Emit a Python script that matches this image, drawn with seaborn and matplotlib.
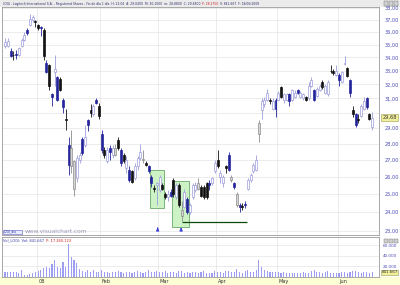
import numpy as np
import pandas as pd
import matplotlib
matplotlib.use("Agg")
import matplotlib.pyplot as plt
import seaborn as sns
from matplotlib.patches import Rectangle
from matplotlib.ticker import FixedLocator, NullLocator, FuncFormatter
from matplotlib.transforms import blended_transform_factory

# ---------------- data ----------------
open_ = [34.9, 34.9, 34.5, 34.2, 34.2, 34.2, 34.9, 35.4, 36.2, 36.6, 37.0, 36.9,
         36.6, 36.4, 36.2, 33.6, 33.4, 31.3, 32.9, 32.5, 32.4, 30.9, 29.6, 27.9, 26.6, 25.3, 25.9, 27.0, 28.3, 27.9, 29.5, 30.2, 29.9, 30.9, 30.5,
         28.6, 27.6, 26.9, 27.7, 27.3, 27.3, 28.2, 27.6, 27.3, 26.5, 26.4, 26.3, 25.9, 26.6, 27.1, 27.0, 26.8, 26.6, 26.0, 25.3, 25.5,
         25.2, 25.5, 25.0, 24.8, 25.1, 25.8, 24.8, 25.5, 23.8, 24.3, 24.7, 24.0, 24.8, 25.2, 25.3, 25.4, 25.4, 25.6, 25.6, 25.6, 26.3,
         27.0, 26.0, 25.6, 26.6, 27.3, 25.8, 25.6, 24.4, 24.4, 24.3, 24.45, 25.3, 25.8, 26.3, 26.4, 28.6, 30.2, 30.6, 30.9, 30.9, 30.3, 30.9,
         30.9, 31.8, 30.9, 30.9, 31.3, 30.9, 31.1, 31.6, 31.1, 31.0, 31.1, 31.0, 31.9, 31.6, 31.2, 31.6, 32.2, 31.4, 31.3, 33.0, 33.0, 32.7,
         32.7, 32.2, 33.5, 33.2, 32.3, 30.2, 29.9, 29.6, 29.8, 30.3, 31.0, 29.9, 29.04]
high = [35.5, 35.5, 34.7, 34.5, 34.6, 34.8, 35.5, 36.0, 36.3, 37.5, 37.4, 37.0,
        36.7, 36.5, 36.3, 33.8, 33.5, 31.4, 34.2, 32.6, 32.5, 31.0, 30.3, 28.4, 28.9, 27.0, 27.3, 27.5, 28.4, 29.2, 29.6, 30.6, 30.6, 31.0, 30.7,
        28.9, 27.8, 27.8, 27.9, 27.9, 28.0, 28.4, 27.7, 27.4, 27.2, 26.6, 26.4, 26.8, 27.2, 28.0, 27.6, 26.9, 26.7, 26.1, 25.5, 25.7,
        26.1, 25.6, 25.1, 25.2, 25.3, 25.9, 25.6, 25.6, 24.6, 25.3, 24.8, 24.5, 25.6, 25.7, 25.9, 25.5, 25.5, 25.7, 25.8, 26.0, 27.0,
        27.6, 26.4, 26.1, 26.7, 27.5, 26.1, 25.7, 25.1, 24.5, 24.5, 24.6, 25.9, 26.2, 26.8, 27.3, 29.5, 31.0, 31.1, 31.7, 31.0, 31.0, 31.0,
        31.5, 31.9, 31.4, 31.4, 31.4, 31.7, 31.6, 31.7, 31.5, 31.4, 31.2, 32.2, 32.5, 31.7, 31.8, 32.0, 32.3, 32.0, 32.3, 33.4, 33.1, 33.4,
        32.8, 33.0, 34.1, 33.3, 32.4, 30.5, 30.0, 29.9, 30.6, 31.1, 31.1, 30.0, 30.10]
low = [34.7, 34.8, 34.0, 33.8, 33.9, 34.1, 34.8, 35.3, 35.8, 36.5, 36.8, 36.4,
       36.2, 35.7, 33.8, 32.8, 31.6, 30.5, 31.9, 30.8, 31.5, 30.0, 28.9, 26.1, 26.2, 24.9, 25.7, 26.8, 27.3, 27.8, 28.8, 29.7, 29.8, 30.6, 29.6,
       27.4, 27.1, 26.8, 27.0, 27.1, 27.2, 27.6, 26.6, 26.8, 26.2, 25.7, 25.6, 25.8, 26.4, 27.0, 26.8, 26.6, 26.2, 25.4, 25.1, 24.4,
       25.1, 25.2, 24.7, 24.6, 24.8, 24.8, 24.7, 24.3, 23.5, 24.2, 23.9, 23.9, 24.7, 25.1, 25.2, 24.8, 24.7, 24.7, 25.2, 25.5, 26.2,
       26.5, 25.6, 25.4, 26.2, 26.3, 25.7, 25.3, 24.3, 24.0, 24.1, 24.2, 25.2, 25.7, 26.2, 26.3, 28.1, 29.6, 30.4, 30.8, 30.6, 30.2, 29.7,
       30.8, 31.0, 30.7, 30.8, 30.5, 30.8, 31.0, 31.3, 31.0, 30.9, 30.8, 30.9, 31.8, 30.8, 31.1, 31.5, 31.7, 31.3, 31.2, 32.8, 32.7, 32.6,
       31.9, 32.1, 33.4, 32.5, 31.1, 29.7, 29.1, 29.3, 29.7, 30.2, 30.3, 29.5, 28.88]
close = [35.2, 35.3, 34.1, 34.15, 34.3, 34.7, 35.4, 35.8, 35.9, 37.1, 37.2, 36.8,
         36.3, 36.3, 34.1, 32.9, 31.9, 31.1, 33.1, 30.9, 31.6, 30.4, 29.5, 26.7, 27.7, 26.9, 27.1, 27.3, 27.4, 28.4, 29.2, 30.0, 30.5, 30.7, 29.8,
         27.6, 27.3, 27.6, 27.5, 27.7, 27.7, 27.7, 26.8, 26.9, 27.0, 25.8, 25.7, 26.6, 27.1, 27.5, 27.05, 26.7, 26.3, 25.6, 25.3, 25.6,
         26.0, 25.3, 24.8, 25.0, 24.9, 25.0, 25.5, 24.4, 24.1, 25.1, 24.0, 24.4, 25.5, 25.5, 25.6, 24.9, 24.8, 24.8, 25.5, 25.9, 26.8,
         26.6, 26.2, 26.0, 26.5, 26.4, 26.0, 25.4, 25.0, 24.3, 24.3, 24.4, 25.8, 26.1, 26.7, 27.0, 29.3, 30.8, 30.9, 31.4, 30.8, 30.8, 30.3,
         31.4, 31.1, 31.3, 31.3, 30.8, 31.6, 31.4, 31.4, 31.4, 31.3, 30.9, 31.9, 32.3, 30.9, 31.7, 31.9, 31.8, 31.9, 32.2, 32.95, 32.8, 33.0,
         32.3, 32.9, 33.6, 32.6, 31.4, 29.9, 29.2, 29.5, 30.5, 30.8, 30.4, 29.6, 29.68]
# candle style: w = hollow, g = grey hollow, b = blue filled, k = black filled
kind = ("wwbkbwwwbwwk" "kbkbkbwbkbkbggwwbwbkwbk" "bkwbwgkbkwbkwwwgkbbkw"
        "wkkwbkwkgwbwwwgkkkbww" "kwwkbgbgbkbwwwwgwwwkwb" "wkwwbwwbwwkwwbwwkwwkkw" "bwwkbkbkwwbkw")
volume_thousands = [819, 953, 895, 895, 895, 629, 1276, 324, 324, 514, 629, 895,
                    1048, 1334, 1715, 1810, 1715, 2419, 3239, 1905, 1619, 2858, 1905, 6286, 3810, 3239, 2667, 1524, 1143, 953, 1334, 953, 1238, 953, 857,
                    1334, 953, 857, 762, 953, 857, 1143, 953, 762, 857, 953, 762, 857, 1143, 857, 762, 953, 1238, 953, 857, 1143,
                    953, 857, 1143, 762, 857, 953, 762, 1048, 1143, 762, 953, 667, 857, 953, 762, 857, 1048, 762, 667, 762, 1143,
                    857, 953, 762, 1048, 1143, 857, 953, 1429, 953, 762, 1048, 1238, 857, 953, 1238, 3239, 1905, 1334, 1048, 857, 857, 953,
                    857, 762, 857, 667, 762, 667, 762, 667, 762, 857, 667, 762, 1048, 1334, 857, 953, 762, 857, 1048, 762, 667, 762,
                    762, 857, 953, 762, 857, 1143, 1048, 857, 762, 953, 857, 762, 841.667]
last_date = "2008-06-18"
month_labels = ["08", "Feb", "Mar", "Apr", "May", "Jun"]
price_ticks = [23, 24, 25, 26, 27, 28, 29, 30, 31, 32, 33, 34, 35, 36, 37, 38]
volume_ticks_hundreds = [20000, 40000, 60000]
box1_candles = [53, 57]
box2_candles = [61, 66]
support_level = 23.46
support_span = [64, 87.5]
arrow_candles = [55.3, 63.8]
header = ("LOGI - Logitech International S.A. - Registered Shares - Fin de día 1 día  H: 21:04  "
          "A: 29,0400  M: 30,1000  m: 28,8800  C: 29,6800 ")
header_red = "P: 28,2750"
header_tail = "  V: 841.667  F: 18/06/2008"
vol_title = "Vol_LOGI: Vol: 841.667 "
vol_title_red = " P: 17.260.123"

assert len(open_) == len(high) == len(low) == len(close) == len(kind) == len(volume_thousands)

# ---------------- figure ----------------
sns.set_theme(style="white")
plt.rcParams["font.family"] = ["DejaVu Sans"]

n = len(close)
dates = pd.bdate_range(end=last_date, periods=n)
xi = np.arange(n)
o, h, l, c = map(np.asarray, (open_, high, low, close))
vol = np.asarray(volume_thousands) * 1000.0

W, H = 400, 285
fig = plt.figure(figsize=(W / 100, H / 100), dpi=100)
fig.patch.set_facecolor("white")


def rect(x0, y0, x1, y1):
    return [x0 / W, 1 - y1 / H, (x1 - x0) / W, (y1 - y0) / H]


fig.add_artist(Rectangle((0, 1 - 7 / H), 1, 7 / H, transform=fig.transFigure,
                         facecolor="#ebebeb", edgecolor="none", zorder=0))
fig.add_artist(Rectangle((0, 0), 1, 8 / H, transform=fig.transFigure,
                         facecolor="#ffffd6", edgecolor="none", zorder=0))

ax = fig.add_axes(rect(2, 7, 379, 235))
axv = fig.add_axes(rect(2, 237, 379, 276.5))

month_bounds = [i - 0.5 for i in range(1, n) if dates[i].month != dates[i - 1].month]
xlim = (-1.1, 135.5)

# ---- candles ----
face_map = {"w": "#ffffff", "g": "#d6d6d6", "b": "#24249c", "k": "#121212"}
edge_map = {"w": "#9c9cdc", "g": "#8c8c8c", "b": "#24249c", "k": "#121212"}
faces = [face_map[k] for k in kind]
edges = [edge_map[k] for k in kind]

ax.set_yscale("log")
ax.vlines(xi, l, h, colors=edges, linewidth=0.6, zorder=3)
bottom = np.minimum(o, c)
height = np.maximum(np.abs(c - o), 0.05)
ax.bar(xi, height, bottom=bottom, width=0.72, color=faces, edgecolor=edges,
       linewidth=0.5, zorder=4)

# green study boxes
for (a, b), (plo, phi) in zip([box1_candles, box2_candles], [(24.2, 26.4), (23.2, 25.75)]):
    ax.add_patch(Rectangle((a - 0.5, plo), (b - a) + 1.2, phi - plo, facecolor="#cdf2c6",
                           edgecolor="#6aa86a", linewidth=0.6, zorder=2))
ax.hlines(support_level, support_span[0], support_span[1], color="#0c4a0c", linewidth=0.9, zorder=5)
for xa in arrow_candles:
    ax.annotate("", xy=(xa, 23.32), xytext=(xa, 22.98),
                arrowprops=dict(arrowstyle="-|>", color="#3b3bd6", lw=0.8, mutation_scale=4),
                zorder=6, annotation_clip=False)

ax.set_xlim(*xlim)
ax.set_ylim(22.79, 38.09)
ax.yaxis.set_major_locator(FixedLocator(price_ticks))
ax.yaxis.set_minor_locator(NullLocator())


def price_fmt(v, pos):
    if abs(np.log(v / close[-1])) < 0.02:
        return ""
    return f"{v:.2f}".replace(".", ",")


ax.yaxis.set_major_formatter(FuncFormatter(price_fmt))
ax.yaxis.tick_right()
ax.tick_params(axis="y", labelsize=3.6, labelcolor="#4a4ab8", length=0, pad=4)
ax.set_xticks(month_bounds)
ax.tick_params(axis="x", length=0, labelbottom=False)
ax.grid(True, color="#e4e4e4", linewidth=0.5)
ax.set_axisbelow(True)
for s in ax.spines.values():
    s.set_color("#9a9a9a")
    s.set_linewidth(0.6)

tr = blended_transform_factory(ax.transAxes, ax.transData)
ax.text(1.009, close[-1], f"{close[-1]:.2f}".replace(".", ","), transform=tr, fontsize=3.6,
        color="#333333", va="center", ha="left", clip_on=False, zorder=10,
        bbox=dict(boxstyle="square,pad=0.2", fc="#f2ef9a", ec="#9a9a50", lw=0.4))

# ---- volume ----
sns.barplot(x=xi, y=vol, native_scale=True, ax=axv, color="#9d9df2", saturation=1,
            width=0.4, errorbar=None, linewidth=0, edgecolor="none")
axv.set_xlim(*xlim)
axv.set_ylim(0, 7.6e6)
axv.set_xlabel("")
axv.set_ylabel("")
axv.yaxis.set_major_locator(FixedLocator([t * 100 for t in volume_ticks_hundreds]))
axv.yaxis.set_minor_locator(NullLocator())
axv.yaxis.set_major_formatter(FuncFormatter(lambda v, p: f"{v / 100:,.0f}".replace(",", ".")))
axv.yaxis.tick_right()
axv.tick_params(axis="y", labelsize=3.0, labelcolor="#4a4ab8", length=0, pad=3)
axv.set_xticks(month_bounds)
axv.set_xticklabels([])
axv.tick_params(axis="x", length=2.0, width=0.5, color="#777777", direction="out")
axv.grid(True, color="#e4e4e4", linewidth=0.5)
axv.set_axisbelow(True)
for s in axv.spines.values():
    s.set_color("#9a9a9a")
    s.set_linewidth(0.6)
trv = blended_transform_factory(axv.transAxes, axv.transData)
axv.text(1.006, vol[-1], f"{vol[-1]:,.0f}".replace(",", "."), transform=trv, fontsize=2.9,
         color="#333333", va="center", ha="left", clip_on=False, zorder=10,
         bbox=dict(boxstyle="square,pad=0.15", fc="#f2ef9a", ec="#9a9a50", lw=0.4))

# month labels in the yellow date strip
trm = blended_transform_factory(axv.transData, fig.transFigure)
for xb, lab in zip(month_bounds, month_labels):
    axv.text(xb + 0.6, 3.8 / H, lab, transform=trm, fontsize=3.6, color="#333333",
             va="center", ha="left", clip_on=False)

# ---- texts and widgets ----
t1 = fig.text(3 / W, 1 - 3.6 / H, header, fontsize=2.2, color="#2d2d6e", va="center", ha="left")
t2 = fig.add_artist(plt.Annotation(header_red, xy=(1, 0), xycoords=t1, va="bottom", ha="left",
                                   fontsize=2.2, color="#d02020"))
fig.add_artist(plt.Annotation(header_tail, xy=(1, 0), xycoords=t2, va="bottom", ha="left",
                              fontsize=2.2, color="#2d2d6e"))
v1 = fig.text(3 / W, 1 - 240.5 / H, vol_title, fontsize=2.6, color="#3a3aa8", va="center", ha="left")
fig.add_artist(plt.Annotation(vol_title_red, xy=(1, 0), xycoords=v1, va="bottom", ha="left",
                              fontsize=2.6, color="#d02020"))

fig.add_artist(Rectangle((3 / W, 1 - 234 / H), 19 / W, 4.5 / H, transform=fig.transFigure,
                         facecolor="#e8ecff", edgecolor="#5a5ac0", linewidth=0.4, zorder=5))
fig.text(4 / W, 1 - 231.8 / H, "LOGI_dia", fontsize=2.2, color="#3a3aa8", va="center", ha="left", zorder=6)
fig.text(25 / W, 1 - 231.8 / H, "www.visualchart.com", fontsize=4.2, color="#9a9ab8",
         va="center", ha="left", zorder=6)

for yb in (1.5, 238.5):
    for xb in (384, 389, 394):
        fig.add_artist(Rectangle((xb / W, 1 - (yb + 4) / H), 4 / W, 4 / H, transform=fig.transFigure,
                                 facecolor="#d0d0d0", edgecolor="#707070", linewidth=0.3, zorder=7))

fig.savefig("out.png", dpi=100, facecolor=fig.get_facecolor())
